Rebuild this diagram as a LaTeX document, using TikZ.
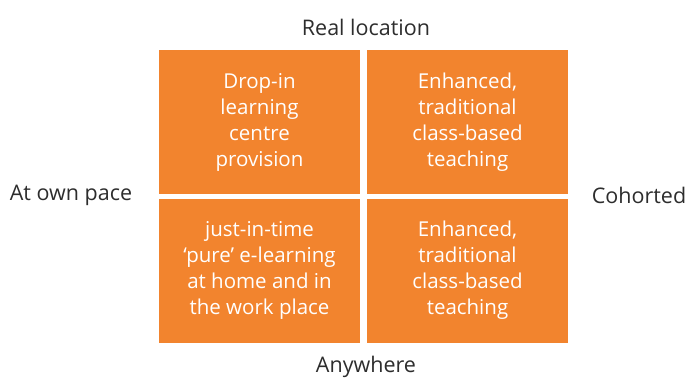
\documentclass[tikz,border=0pt]{standalone}
\usepackage{fontspec}
\setmainfont{Open Sans}
\usepackage{tikz}

\definecolor{quadorange}{RGB}{242,132,46}
\definecolor{axisgray}{RGB}{45,45,45}

\tikzset{
	quad/.style={shape=rectangle, fill=quadorange, minimum width=201pt, minimum height=144pt, inner sep=0pt, text=white, align=center, font=\fontsize{20.5}{26}\selectfont},
	axis/.style={text=axisgray, font=\fontsize{21.5}{24}\selectfont, inner sep=0pt}
}

\begin{document}
\begin{tikzpicture}[x=1pt,y=-1pt]
			\useasboundingbox (0,0) rectangle (688,380);
			\node[quad] (dropin) at (259.5,122) {Drop-in\\learning\\centre\\provision};
			\node[quad] (classtop) at (467.5,122) {Enhanced,\\traditional\\class-based\\teaching};
			\node[quad] (pure) at (259.5,270.5) {just-in-time\\`pure' e-learning\\at home and in\\the work place};
			\node[quad] (classbot) at (467.5,270.5) {Enhanced,\\traditional\\class-based\\teaching};
			
			\node[axis] (real) at (366,27) {Real location};
			\node[axis] (anywhere) at (366,367) {Anywhere};
			\node[axis] (ownpace) at (71,195) {At own pace};
			\node[axis] (cohorted) at (639,195) {Cohorted};
		\end{tikzpicture}
\end{document}
